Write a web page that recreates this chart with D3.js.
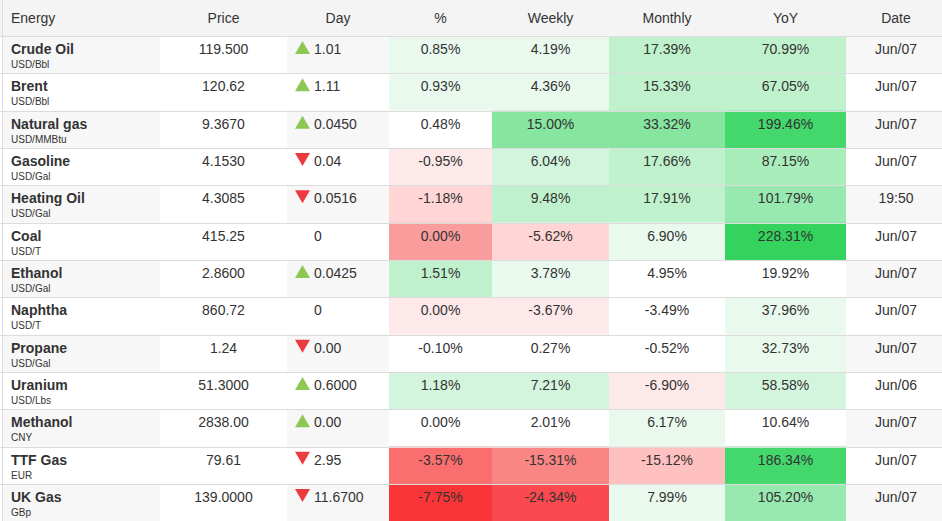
<!DOCTYPE html>
<html lang="en">
<head>
<meta charset="UTF-8">
<title>Energy</title>
<script src="https://d3js.org/d3.v7.min.js"></script>
<style>
  body { margin: 0; background: #fff; overflow: hidden; }
  text { font-family: "Liberation Sans", Arial, sans-serif; fill: #333; }
</style>
</head>
<body>
<div id="table"></div>
<script>
const names = ["Crude Oil", "Brent", "Natural gas", "Gasoline", "Heating Oil", "Coal", "Ethanol",
  "Naphtha", "Propane", "Uranium", "Methanol", "TTF Gas", "UK Gas"];
const units = ["USD/Bbl", "USD/Bbl", "USD/MMBtu", "USD/Gal", "USD/Gal", "USD/T", "USD/Gal",
  "USD/T", "USD/Gal", "USD/Lbs", "CNY", "EUR", "GBp"];
const prices = ["119.500", "120.62", "9.3670", "4.1530", "4.3085", "415.25", "2.8600",
  "860.72", "1.24", "51.3000", "2838.00", "79.61", "139.0000"];
const dayChange = ["1.01", "1.11", "0.0450", "0.04", "0.0516", "0", "0.0425",
  "0", "0.00", "0.6000", "0.00", "2.95", "11.6700"];
const dayDir = [1, 1, 1, -1, -1, 0, 1, 0, -1, 1, 1, -1, -1];
const pct = [0.85, 0.93, 0.48, -0.95, -1.18, 0.00, 1.51, 0.00, -0.10, 1.18, 0.00, -3.57, -7.75];
const weekly = [4.19, 4.36, 15.00, 6.04, 9.48, -5.62, 3.78, -3.67, 0.27, 7.21, 2.01, -15.31, -24.34];
const monthly = [17.39, 15.33, 33.32, 17.66, 17.91, 6.90, 4.95, -3.49, -0.52, -6.90, 6.17, -15.12, 7.99];
const yoy = [70.99, 67.05, 199.46, 87.15, 101.79, 228.31, 19.92, 37.96, 32.73, 58.58, 10.64, 186.34, 105.20];
const dates = ["Jun/07", "Jun/07", "Jun/07", "Jun/07", "19:50", "Jun/07", "Jun/07",
  "Jun/07", "Jun/07", "Jun/06", "Jun/07", "Jun/07", "Jun/07"];
// heat shade of each cell as seen in the picture (0 = no shade)
const pctShade = [1, 1, 0, -1, -2, -4, 3, -1, 0, 2, 0, -6, -8];
const weeklyShade = [1, 1, 6, 2, 3, -2, 1, -1, 0, 2, 0, -5, -7];
const monthlyShade = [3, 3, 6, 3, 3, 1, 0, 0, 0, -1, 1, -3, 1];
const yoyShade = [3, 3, 7, 4, 5, 8, 0, 1, 1, 2, 0, 7, 5];
const headers = ["Energy", "Price", "Day", "%", "Weekly", "Monthly", "YoY", "Date"];

// Layout
const W = 942, H = 521, headH = 36;
const edges = [2, 160, 287, 389, 492, 609, 725, 846, 942];
const colCenter = i => (edges[i] + edges[i + 1]) / 2;

const svg = d3.select("#table")
  .append("svg")
  .attr("width", W)
  .attr("height", H);

const y = d3.scaleBand()
  .domain(names)
  .range([headH, headH + names.length * 37.33]);

const shade = d3.scaleOrdinal()
  .domain([-8, -7, -6, -5, -4, -3, -2, -1, 1, 2, 3, 4, 5, 6, 7, 8])
  .range(["#fa3538", "#fb4a4f", "#fb6e6e", "#fa8585", "#f99c9c", "#ffc0c0", "#ffd5d5", "#fde9e9",
    "#e9f9ed", "#d4f5dd", "#c0f1cd", "#a9edbb", "#98e9b0", "#86e59f", "#44d86c", "#34d35e"]);

// header background
svg.append("rect")
  .attr("x", 0).attr("y", 0)
  .attr("width", W).attr("height", headH)
  .attr("fill", "#f4f4f4");

const rows = svg.append("g")
  .selectAll("g")
  .data(names)
  .join("g")
  .attr("transform", d => `translate(0, ${y(d)})`);

// striped cells (Energy, Day, Date) on every other row
[0, 2, 7].forEach(c => {
  rows.filter((d, i) => i % 2 === 0)
    .append("rect")
    .attr("x", edges[c])
    .attr("width", edges[c + 1] - edges[c])
    .attr("height", y.bandwidth())
    .attr("fill", "#f7f7f7");
});

// heat coloured change cells
const heat = [[3, pct, pctShade], [4, weekly, weeklyShade], [5, monthly, monthlyShade], [6, yoy, yoyShade]];
const fmt = v => v.toFixed(2) + "%"; // plain hyphen minus like the source

heat.forEach(([c, vals, shades]) => {
  rows.filter((d, i) => shades[i] !== 0)
    .append("rect")
    .attr("x", edges[c])
    .attr("width", edges[c + 1] - edges[c])
    .attr("height", y.bandwidth())
    .attr("fill", (d) => shade(shades[names.indexOf(d)]));
});

// grid lines
svg.append("g")
  .selectAll("line")
  .data(names)
  .join("line")
  .attr("x1", 0)
  .attr("x2", W)
  .attr("y1", d => Math.round(y(d)) + 0.5)
  .attr("y2", d => Math.round(y(d)) + 0.5)
  .attr("stroke", "#dcdcdc");

svg.append("line")
  .attr("x1", 2.5).attr("x2", 2.5)
  .attr("y1", 0).attr("y2", H)
  .attr("stroke", "#dcdcdc");

// header labels
svg.append("g")
  .selectAll("text")
  .data(headers)
  .join("text")
  .attr("x", (d, i) => i === 0 ? 11 : (i === 7 ? 896 : colCenter(i)))
  .attr("y", 23)
  .attr("text-anchor", (d, i) => i === 0 ? "start" : "middle")
  .attr("font-size", "14px")
  .text(d => d);

// names and units
rows.append("text")
  .attr("x", 11)
  .attr("y", 18)
  .attr("font-size", "14px")
  .attr("font-weight", "bold")
  .text(d => d);

rows.append("text")
  .attr("x", 11)
  .attr("y", 32)
  .attr("font-size", "10px")
  .text((d, i) => units[i]);

// price
rows.append("text")
  .attr("x", colCenter(1))
  .attr("y", 18)
  .attr("text-anchor", "middle")
  .attr("font-size", "14px")
  .text((d, i) => prices[i]);

// day change with arrows
rows.filter((d, i) => dayDir[i] !== 0)
  .append("path")
  .attr("d", d => {
    const up = dayDir[names.indexOf(d)] > 0;
    return up ? "M295,18L302.5,5L310,18Z" : "M295,5L302.5,18L310,5Z";
  })
  .attr("fill", d => dayDir[names.indexOf(d)] > 0 ? "#8dc857" : "#ec3b40");

rows.append("text")
  .attr("x", 314)
  .attr("y", 18)
  .attr("font-size", "14px")
  .text((d, i) => dayChange[i]);

// percentage columns
heat.forEach(([c, vals]) => {
  rows.append("text")
    .attr("x", colCenter(c))
    .attr("y", 18)
    .attr("text-anchor", "middle")
    .attr("font-size", "14px")
    .text((d, i) => fmt(vals[i]));
});

// date
rows.append("text")
  .attr("x", 896)
  .attr("y", 18)
  .attr("text-anchor", "middle")
  .attr("font-size", "14px")
  .text((d, i) => dates[i]);
</script>
</body>
</html>
